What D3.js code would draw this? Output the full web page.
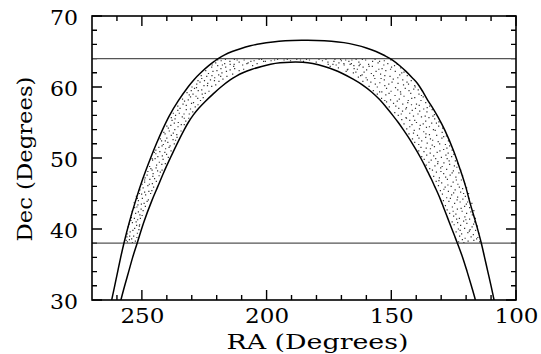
<!DOCTYPE html>
<html>
<head>
<meta charset="utf-8">
<script src="https://cdn.jsdelivr.net/npm/d3@7"></script>
<style>
  body { margin: 0; background: #fff; }
  svg { display: block; }
  .tick text, .label { font-family: "DejaVu Serif", serif; font-size: 20px; fill: #000; }
</style>
</head>
<body>
<svg id="chart" width="541" height="354"></svg>
<script>
// tick values
const raMajor = [250, 200, 150, 100];
const raMinor = [260, 240, 230, 220, 210, 190, 180, 170, 160, 140, 130, 120, 110];
const decMajor = [30, 40, 50, 60, 70];
const decMinor = [32, 34, 36, 38, 42, 44, 46, 48, 52, 54, 56, 58, 62, 64, 66, 68];

// declination limits of the sample
const limitDecs = [64, 38];

// stripe edges [RA, Dec]
const outerEdge = [
  [262.5, 29.2], [262.1, 30], [260.9, 32], [259.7, 34], [258.5, 36], [257.2, 38], [255.0, 41],
  [252.5, 44], [249.7, 47], [246.5, 50], [244.2, 52], [241.7, 54], [238.9, 56], [235.5, 58],
  [231.5, 60], [229.2, 61], [226.4, 62], [223.2, 63], [221.0, 63.6], [219.4, 64], [217.0, 64.5],
  [213.8, 65.0], [210.5, 65.4], [206.5, 65.8], [202.5, 66.1], [197.5, 66.35], [192.5, 66.5],
  [186.0, 66.57], [180.0, 66.56], [174.0, 66.45], [169.0, 66.25], [164.1, 65.9], [160.0, 65.5],
  [156.1, 65.0], [152.5, 64.4], [149.5, 63.8], [146.6, 63.0], [144.1, 62.2], [141.6, 61.3],
  [139.5, 60.5], [137.3, 59.3], [135.5, 58.2], [133.3, 57.0], [131.3, 55.8], [128.5, 53.9],
  [125.0, 51.0], [122.3, 48.3], [120.2, 46.0], [118.3, 43.5], [116.2, 41.0], [113.9, 38],
  [112.6, 36], [111.3, 34], [110.0, 32], [108.8, 30], [108.4, 29.2]
];
const innerEdge = [
  [258.9, 29.2], [258.4, 30], [256.9, 32], [255.3, 34], [253.7, 36], [251.9, 38], [249.2, 41],
  [246.0, 44], [243.6, 46], [241.2, 48], [238.6, 50], [235.9, 52], [233.0, 54], [231.4, 55],
  [229.5, 56], [227.2, 57], [224.5, 58], [221.5, 59], [218.3, 60], [214.6, 61], [212.3, 61.5],
  [209.5, 62], [205.8, 62.5], [202.0, 62.9], [198.4, 63.2], [194.6, 63.4], [190.5, 63.5],
  [185.5, 63.48], [181.5, 63.3], [176.5, 62.85], [172.8, 62.4], [169.6, 61.9], [165.3, 61.1],
  [161.6, 60.3], [157.9, 59.3], [154.6, 58.2], [151.7, 57], [149.4, 56], [147.2, 55],
  [145.2, 54], [143.3, 53], [141.5, 52], [139.8, 51], [138.2, 50], [136.7, 49], [135.3, 48],
  [133.9, 47], [132.6, 46], [131.3, 45], [130.1, 44], [129.0, 43], [127.9, 42], [126.8, 41],
  [125.7, 40], [124.6, 39], [123.5, 38], [121.4, 36], [119.6, 34], [117.9, 32], [116.3, 30],
  [115.9, 29.2]
];

// galaxies, eastern arm of the stripe
const dotsEast = [
  [252.6,38.3],[254.1,38.6],[255.8,38.2],[253.3,39.0],[256.0,38.9],[251.8,39.4],[254.7,39.6],
  [252.9,40.1],[255.5,40.3],[250.9,40.6],[253.8,40.9],[251.7,41.3],[254.2,41.6],[249.9,41.9],
  [252.5,42.2],[253.9,42.5],[250.3,42.8],[248.6,43.2],[251.6,43.4],[253.1,43.7],[247.4,44.1],
  [249.8,44.3],[252.2,44.6],[246.5,45.0],[248.9,45.2],[250.8,45.5],[245.3,45.9],[247.6,46.1],
  [249.9,46.3],[244.2,46.7],[246.8,47.0],[248.7,47.2],[243.1,47.5],[245.5,47.8],[247.6,48.1],
  [241.9,48.3],[244.3,48.6],[246.9,48.8],[240.6,49.2],[243.0,49.4],[245.7,49.7],[239.4,50.1],
  [241.8,50.3],[244.4,50.6],[245.0,50.8],[238.3,51.0],[240.5,51.3],[243.2,51.5],[237.0,52.0],
  [239.6,52.2],[242.1,52.4],[242.6,52.7],[235.9,52.9],[238.2,53.2],[240.7,53.4],[234.3,53.8],
  [236.8,54.0],[239.4,54.2],[240.0,54.5],[233.0,54.7],[235.4,55.0],[237.9,55.3],[231.2,55.6],
  [233.8,55.8],[236.5,56.0],[237.4,56.3],[229.6,56.5],[232.2,56.8],[234.7,57.0],[235.6,57.3],
  [227.5,57.5],[230.1,57.7],[232.9,58.0],[233.7,58.3],[225.4,58.5],[228.3,58.7],[231.0,58.9],
  [231.9,59.2],[223.1,59.4],[226.0,59.6],[228.9,59.8],[229.9,60.0],[220.4,60.3],[223.6,60.5],
  [226.7,60.7],[227.5,60.9],[217.5,61.1],[220.8,61.3],[224.0,61.5],[226.2,61.6],[213.6,61.8],
  [217.9,62.0],[221.5,62.2],[224.4,62.3],[209.2,62.5],[212.8,62.6],[216.4,62.8],[219.6,63.0],
  [221.8,63.1],[203.8,63.3],[207.4,63.4],[211.0,63.5],[214.7,63.6],[218.2,63.7],[219.6,63.8],
  [255.0,38.5],[252.0,38.8],[255.9,39.3],[253.6,39.8],[251.0,40.4],[255.1,40.7],[252.3,41.0],
  [250.6,41.5],[254.2,41.9],[251.4,42.4],[249.5,42.6],[252.9,43.0],[250.2,43.5],[247.9,43.9],
  [251.4,44.0],[248.5,44.8],[251.0,45.0],[246.0,45.4],[249.5,45.8],[245.8,46.4],[248.9,46.6],
  [244.9,47.1],[247.9,47.6],[242.6,48.0],[245.9,48.3],[244.1,49.0],[241.5,49.8],[245.9,49.9],
  [240.1,50.5],[242.8,50.9],[244.4,51.1],[238.7,51.7],[241.4,51.9],[236.5,52.5],[240.0,52.8],
  [237.4,53.5],[241.2,53.6],[235.5,54.4],[238.4,54.6],[232.4,55.2],[236.7,55.5],[238.2,55.7],
  [233.1,56.2],[230.5,56.9],[235.6,56.7],[228.6,57.2],[233.5,57.6],[231.4,58.2],[226.5,58.1],
  [229.5,59.0],[224.6,59.1],[227.4,59.5],[230.2,59.5],[222.0,60.1],[225.1,60.2],[228.0,60.4],
  [219.1,60.8],[222.5,61.0],[226.0,61.2],[215.9,61.5],[219.2,61.7],[223.3,61.9],[211.0,62.3],
  [214.6,62.4],[218.3,62.6],[222.0,62.8],[205.6,63.0],[209.6,63.1],[213.0,63.2],[216.8,63.3],
  [220.4,63.4],[200.5,63.6],[205.0,63.7],[209.0,63.8],[212.9,63.9],[216.5,63.9],
  [253.8,38.1],[256.3,38.4],[251.2,39.9],[254.9,39.0],[252.1,40.5],[253.0,41.5],[254.4,41.2],
  [250.8,42.0],[252.0,43.1],[249.1,43.6],[250.1,44.9],[251.8,44.3],[247.2,45.3],[248.9,46.9],
  [247.0,46.3],[245.6,47.4],[243.7,48.2],[246.4,48.5],[242.0,49.1],[244.7,49.9],[240.8,50.8],
  [243.6,50.2],[239.1,51.5],[241.9,51.7],[237.5,52.6],[240.6,52.4],[236.0,53.3],[239.0,53.8],
  [234.2,54.7],[237.0,54.9],[233.0,55.6],[235.0,56.3],[231.0,56.2],[229.3,57.8],[232.2,57.4],
  [227.6,58.4],[230.5,58.6],[225.8,59.0],[228.1,59.9],[223.7,60.2],[220.9,60.9],[224.9,60.9],
  [218.4,61.5],[221.9,61.6],[216.1,62.2],[219.9,62.3],[213.2,62.9],[217.7,63.1],[207.9,63.3],
  [211.8,63.8],[214.6,63.2],[202.0,63.9],[206.3,63.6]
];

// galaxies near the top of the stripe
const dotsCap = [
  [198.2,63.7],[195.6,63.9],[193.0,63.8],[190.4,63.7],[187.9,63.9],[185.2,63.6],[182.8,63.8],
  [180.1,63.5],[177.6,63.7],[175.3,63.2],[173.0,63.6],[171.2,62.7],[169.0,63.3],[167.4,62.5],
  [165.8,63.8],[164.2,62.1],[162.9,63.0],[196.8,63.8],[191.7,63.9],[186.4,63.8],[184.0,63.9],
  [179.0,63.9],[176.2,63.9],[172.1,63.1],[170.3,63.9],[168.1,62.2],[166.5,63.2],[203.0,63.9],
  [201.2,63.6],[174.5,62.9]
];

// galaxies, western arm of the stripe
const dotsWest = [
  [114.6,38.2],[116.9,38.4],[119.2,38.3],[121.5,38.5],[123.0,38.2],[115.3,38.8],[118.0,38.9],
  [120.4,38.7],[122.6,39.0],[117.1,39.2],[114.9,39.4],[119.3,39.5],[121.8,39.3],[124.0,39.6],
  [116.2,39.8],[118.4,39.9],[123.1,40.0],[120.6,40.1],[115.5,40.4],[117.6,40.3],[122.2,40.5],
  [124.8,40.6],[119.7,40.8],[116.6,41.0],[121.0,41.1],[125.6,41.0],[123.4,40.9],[116.3,41.5],
  [118.6,41.4],[120.5,41.7],[122.7,41.5],[125.0,41.8],[117.5,42.0],[124.1,42.1],[126.6,42.2],
  [119.8,42.2],[116.9,42.6],[121.6,42.5],[123.5,42.8],[127.6,42.7],[118.6,43.0],[125.5,43.1],
  [120.6,43.2],[128.3,43.3],[117.7,43.6],[119.9,43.5],[122.4,43.8],[124.6,43.6],[126.9,43.9],
  [129.1,44.0],[121.3,44.2],[118.9,44.3],[127.8,44.4],[120.3,44.6],[123.4,44.5],[125.8,44.8],
  [129.5,44.9],[119.0,45.0],[122.2,45.2],[127.1,45.3],[130.3,45.4],[124.4,45.5],[119.8,45.8],
  [121.4,45.7],[126.0,46.0],[128.4,45.9],[131.1,46.1],[123.3,46.3],[120.6,46.4],[129.8,46.5],
  [125.2,46.6],[132.0,46.7],[121.9,46.9],[127.5,47.0],[130.7,47.2],[124.1,47.3],[133.0,47.4],
  [121.4,47.5],[126.4,47.6],[129.0,47.8],[122.9,47.9],[131.9,48.0],[122.2,48.3],[125.1,48.2],
  [127.8,48.4],[134.6,48.5],[123.7,48.7],[130.2,48.6],[132.5,48.9],[136.0,49.0],[126.6,49.1],
  [128.9,49.3],[123.3,49.2],[124.3,49.6],[131.3,49.5],[134.0,49.7],[136.8,49.8],[127.6,49.9],
  [125.8,50.2],[129.9,50.1],[133.0,50.3],[135.8,50.4],[137.8,50.2],[124.9,50.5],[127.2,50.7],
  [131.6,50.8],[136.9,50.9],[139.0,51.0],[125.6,51.1],[129.0,51.2],[134.3,51.3],[138.1,51.5],
  [132.7,51.6],[126.6,51.7],[128.3,51.9],[130.6,52.0],[135.6,52.1],[140.6,52.2],[127.1,52.4],
  [133.4,52.5],[137.8,52.4],[141.5,52.7],[129.7,52.8],[136.2,52.9],[127.9,53.1],[131.8,53.2],
  [134.7,53.3],[139.5,53.2],[142.9,53.4],[129.6,53.6],[137.0,53.7],[140.8,53.9],[133.1,54.0],
  [143.8,54.1],[135.9,54.3],[129.4,54.2],[131.0,54.5],[138.4,54.6],[141.7,54.7],[144.9,54.8],
  [133.8,54.9],[130.9,55.1],[136.2,55.2],[139.9,55.0],[142.6,55.3],[145.8,55.4],[132.6,55.5],
  [134.9,55.7],[137.9,55.8],[141.1,55.9],[144.1,55.7],[147.2,56.0],[132.7,56.1],[139.3,56.2],
  [142.6,56.3],[148.6,56.4],[135.7,56.5],[145.5,56.6],[133.6,56.8],[137.0,56.9],[140.3,57.0],
  [143.9,57.1],[147.0,57.0],[150.8,57.2],[134.6,57.3],[138.8,57.4],[141.9,57.5],[145.4,57.6],
  [149.1,57.7],[136.2,57.8],[151.9,57.9],[138.1,58.1],[143.2,58.1],[146.8,58.3],[150.3,58.2],
  [153.9,58.4],[137.2,58.6],[140.6,58.5],[144.9,58.7],[148.5,58.8],[152.2,58.9],[155.6,59.0],
  [138.9,59.0],[142.2,59.1],[146.3,59.3],[150.1,59.4],[153.8,59.3],[157.2,59.5],[139.2,59.6],
  [141.0,59.7],[144.4,59.8],[148.3,59.9],[151.9,59.8],[155.6,60.0],[158.9,60.1],[140.6,60.2],
  [143.1,60.4],[147.3,60.5],[151.0,60.4],[154.6,60.6],[158.2,60.7],[161.4,60.8],[142.0,60.9],
  [145.4,61.0],[149.2,61.1],[152.8,61.0],[156.6,61.2],[160.1,61.3],[163.2,61.4],[143.6,61.6],
  [146.6,61.7],[150.5,61.5],[154.3,61.8],[158.0,61.9],[161.7,61.7],[165.2,62.0],[144.9,62.1],
  [148.4,62.2],[152.2,62.3],[156.1,62.2],[159.9,62.4],[163.6,62.5],[167.6,62.4],[146.2,62.7],
  [149.9,62.8],[153.7,62.6],[157.6,62.9],[161.3,62.8],[165.0,63.0],[168.9,63.1],[147.6,63.2],
  [151.4,63.3],[155.3,63.4],[159.1,63.2],[163.0,63.5],[167.0,63.6],[171.0,63.4],[175.4,63.5],
  [150.2,63.8],[152.8,63.7],[156.5,63.9],[160.3,63.8],[164.1,63.9],[168.3,63.8],[172.6,63.9],
  [154.7,63.6],
  [115.8,38.6],[120.9,38.1],[118.7,39.7],[122.4,39.8],[117.0,40.7],[120.1,41.3],[123.8,41.4],
  [118.1,42.4],[122.0,42.9],[125.2,42.5],[119.4,43.8],[123.6,44.1],[126.3,44.3],[121.0,45.0],
  [125.0,45.1],[128.9,45.6],[122.7,45.9],[127.3,46.2],[130.9,46.8],[123.9,46.9],[128.2,47.3],
  [125.6,47.9],[130.1,48.1],[133.5,48.3],[124.7,48.9],[129.6,48.8],[131.4,49.2],[134.9,49.4],
  [126.8,49.6],[132.2,49.9],[128.1,50.4],[134.4,50.7],[130.5,51.0],[136.0,51.4],[127.7,51.4],
  [133.6,51.8],[139.0,51.9],[131.2,52.3],[138.9,52.8],[134.3,52.7],[129.0,53.0],[136.1,53.4],
  [141.1,53.5],[132.4,53.9],[138.7,54.1],[134.7,54.4],[142.6,54.4],[137.2,54.8],[131.9,54.9],
  [140.6,55.3],[143.9,55.6],[136.4,55.9],[133.3,55.9],[146.0,56.2],[138.6,56.6],[141.6,56.7],
  [144.2,56.9],[135.6,57.1],[148.2,57.3],[139.9,57.6],[143.4,57.8],[147.6,58.0],[152.6,58.1],
  [141.8,58.4],[137.9,58.8],[146.2,59.0],[150.9,59.1],[154.7,59.3],[142.9,59.5],[147.4,59.6],
  [140.4,60.0],[152.6,60.2],[145.1,60.3],[156.4,60.4],[149.7,60.7],[143.7,60.7],[159.6,61.0],
  [154.1,61.2],[147.4,61.3],[162.3,61.6],[152.6,61.6],[157.1,61.6],[145.8,62.0],[160.9,62.1],
  [150.3,62.5],[155.0,62.5],[164.9,62.6],[158.9,62.9],[148.7,63.0],[162.5,63.2],[153.0,63.1],
  [166.0,63.3],[157.5,63.6],[161.6,63.9],[170.0,63.7],[173.4,63.2]
];

const svg = d3.select("#chart");
const x = d3.scaleLinear().domain([270, 100]).range([92, 516]);
const y = d3.scaleLinear().domain([30, 70]).range([300, 16]);
const [x0, x1] = x.range();
const [y0, y1] = y.range();

// tick marks first, pointing inwards on all four sides
const xTicks = raMajor.map(v => [v, 10]).concat(raMinor.map(v => [v, 5]));
const yTicks = decMajor.map(v => [v, 10]).concat(decMinor.map(v => [v, 5]));

const tickPath = d3.path();
xTicks.forEach(([v, len]) => {
  tickPath.moveTo(x(v), y0); tickPath.lineTo(x(v), y0 - len);
  tickPath.moveTo(x(v), y1); tickPath.lineTo(x(v), y1 + len);
});
yTicks.forEach(([v, len]) => {
  tickPath.moveTo(x0, y(v)); tickPath.lineTo(x0 + len, y(v));
  tickPath.moveTo(x1, y(v)); tickPath.lineTo(x1 - len, y(v));
});
svg.append("path")
  .attr("class", "ticks")
  .attr("d", tickPath.toString())
  .attr("fill", "none")
  .attr("stroke", "#000")
  .attr("stroke-width", 1.4);

svg.append("clipPath").attr("id", "plot-area")
  .append("rect")
  .attr("x", x0).attr("y", y1)
  .attr("width", x1 - x0).attr("height", y0 - y1);

const plot = svg.append("g").attr("clip-path", "url(#plot-area)");

// points, one path per group of galaxies
const dotPath = pts => {
  const p = d3.path();
  pts.forEach(d => p.rect(x(d[0]) - 0.6, y(d[1]) - 0.6, 1.2, 1.2));
  return p.toString();
};
plot.selectAll(".dots")
  .data([dotsEast, dotsCap, dotsWest])
  .join("path")
  .attr("class", "dots")
  .attr("d", dotPath)
  .attr("fill", "#333");

// dec limits
plot.selectAll(".limit")
  .data(limitDecs)
  .join("line")
  .attr("class", "limit")
  .attr("x1", x0).attr("x2", x1)
  .attr("y1", d => y(d)).attr("y2", d => y(d))
  .attr("stroke", "#555")
  .attr("stroke-width", 1.3);

const edge = d3.line()
  .x(d => x(d[0]))
  .y(d => y(d[1]))
  .curve(d3.curveCatmullRom.alpha(0.5));

plot.selectAll(".edge")
  .data([outerEdge, innerEdge])
  .join("path")
  .attr("class", "edge")
  .attr("d", edge)
  .attr("fill", "none")
  .attr("stroke", "#000")
  .attr("stroke-width", 1.5);

// tick labels
const bottom = svg.append("g").attr("transform", `translate(0,${y0})`)
  .call(d3.axisBottom(x).tickValues(raMajor).tickSize(0).tickPadding(9));
const left = svg.append("g").attr("transform", `translate(${x0},0)`)
  .call(d3.axisLeft(y).tickValues(decMajor).tickSize(0).tickPadding(14));
[bottom, left].forEach(g => {
  g.select(".domain").remove();
  g.selectAll(".tick line").remove();
  g.selectAll(".tick text")
    .attr("textLength", d => String(d).length === 3 ? 44 : 28)
    .attr("lengthAdjust", "spacingAndGlyphs");
});
left.selectAll(".tick text").attr("dy", "0.42em");

svg.append("text")
  .attr("class", "label")
  .attr("x", 317.5)
  .attr("y", 349)
  .attr("text-anchor", "middle")
  .attr("textLength", 182)
  .attr("lengthAdjust", "spacingAndGlyphs")
  .text("RA (Degrees)");

svg.append("text")
  .attr("class", "label")
  .attr("transform", "translate(32,159) rotate(-90)")
  .attr("text-anchor", "middle")
  .attr("textLength", 165)
  .attr("lengthAdjust", "spacingAndGlyphs")
  .text("Dec (Degrees)");

// frame
svg.append("rect")
  .attr("x", x0).attr("y", y1)
  .attr("width", x1 - x0).attr("height", y0 - y1)
  .attr("fill", "none")
  .attr("stroke", "#000")
  .attr("stroke-width", 1.6);
</script>
</body>
</html>
